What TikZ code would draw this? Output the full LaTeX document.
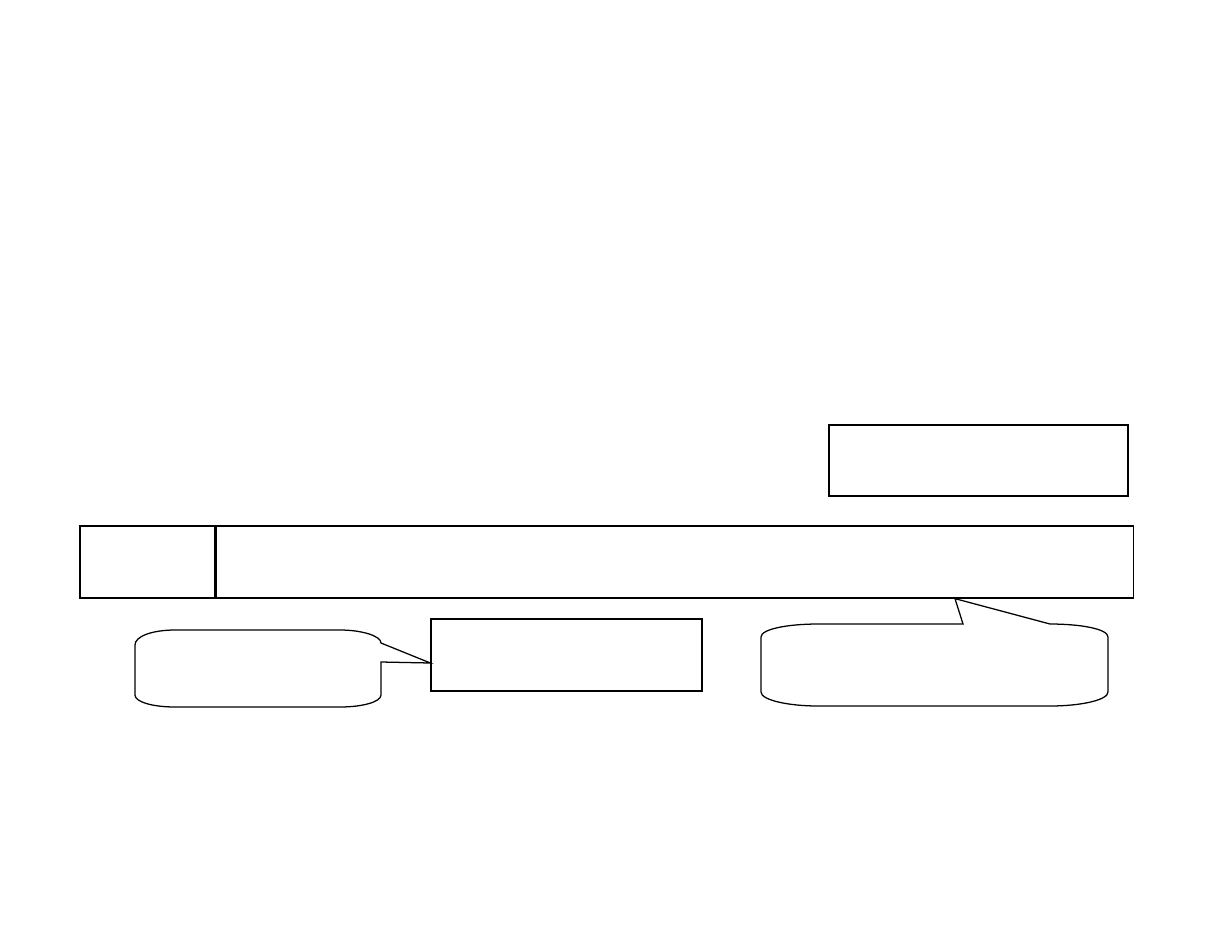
\documentclass[tikz,border=0pt]{standalone}
\usepackage{tikz}
\usetikzlibrary{positioning}
\newcommand{\pxu}{0.025cm}
\tikzset{box/.style={draw, rectangle, inner sep=0pt, line width=0.9pt}}
\tikzset{bubble/.style={draw, line width=0.9pt, line join=miter}}

\begin{document}
\begin{tikzpicture}[x=\pxu, y=-\pxu]
	\useasboundingbox (0,0) rectangle (1210,935);
	%% Boxes
	\node [box, minimum width=299*\pxu, minimum height=71*\pxu] (Top) at (978.5,460.5) {};
	\node [box, minimum width=135*\pxu, minimum height=72*\pxu] (BarL) at (147.5,562) {};
	\node [box, minimum width=917*\pxu, minimum height=72*\pxu, right=0pt of BarL] (BarR) {};
	\node [box, minimum width=271*\pxu, minimum height=72*\pxu] (Mid) at (566.5,655) {};
	%% Callout tips
	\coordinate (TipL) at (Mid.west |- 0,663);
	\coordinate (TipR) at (BarR.south -| 955,0);
	%% Callouts
	\draw [bubble] (135,645) .. controls (135,636) and (153,630) .. (175,630) -- (340,630)
		.. controls (362,630) and (381,636) .. (381,643) -- (TipL) -- (381,662) -- (381,695)
		.. controls (381,702) and (362,707) .. (340,707) -- (175,707)
		.. controls (153,707) and (135,702) .. (135,695) -- cycle;
	\draw [bubble] (761,637) .. controls (761,629) and (788,624) .. (818,624) -- (963,624) -- (TipR)
		-- (1050,624) .. controls (1081,624) and (1108,629) .. (1108,637) -- (1108,692)
		.. controls (1108,700) and (1081,706) .. (1050,706) -- (818,706)
		.. controls (788,706) and (761,700) .. (761,692) -- cycle;
\end{tikzpicture}
\end{document}
